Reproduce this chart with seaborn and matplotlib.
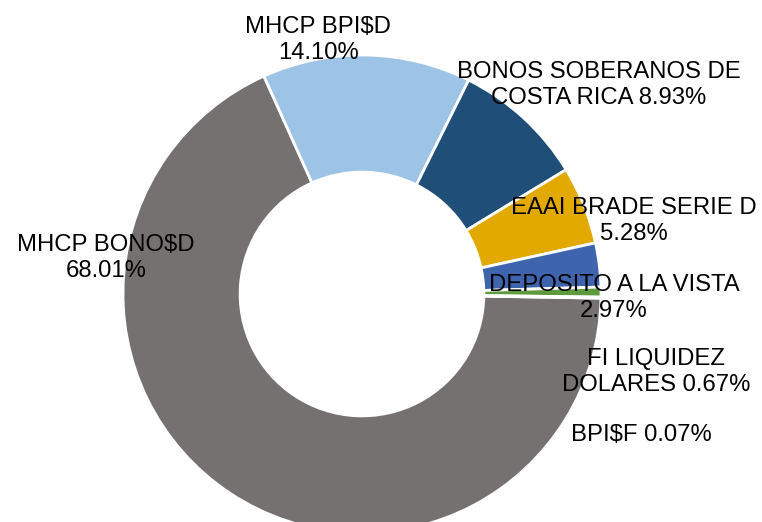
import matplotlib
matplotlib.use("Agg")
import seaborn as sns
from matplotlib import pyplot as plt

# data
names = ["MHCP BONO$D", "MHCP BPI$D", "BONOS SOBERANOS DE\nCOSTA RICA", "EAAI BRADE SERIE D",
         "DEPOSITO A LA VISTA", "FI LIQUIDEZ\nDOLARES", "BPI$F"]
shares = [68.01, 14.10, 8.93, 5.28, 2.97, 0.67, 0.07]
label_text = ["MHCP BONO$D\n68.01%", "MHCP BPI$D\n14.10%", "BONOS SOBERANOS DE\nCOSTA RICA 8.93%",
              "EAAI BRADE SERIE D\n5.28%", "DEPOSITO A LA VISTA\n2.97%", "FI LIQUIDEZ\nDOLARES 0.67%",
              "BPI$F 0.07%"]
colors = ["#767171", "#9DC3E6", "#1F4E79", "#E2AA00", "#3F64AE", "#5E9B3C", "#A5A5A5"]

# label placement (pixel centres in the 762x522 image)
label_pos = [(106, 258), (318, 40), (599, 85), (634, 221), (614, 298), (656, 372), (641, 435)]

W, H = 762, 522

sns.set_style("white")
plt.rcParams["font.family"] = ["Liberation Sans", "DejaVu Sans"]

fig = plt.figure(figsize=(W / 100, H / 100), dpi=100)
cx, cy, r = 362, 294, 239
ax = fig.add_axes([(cx - r) / W, (H - cy - r) / H, 2 * r / W, 2 * r / H])

ax.pie(shares, colors=colors, startangle=-1, counterclock=False, radius=1,
       wedgeprops=dict(width=0.49, edgecolor="white", linewidth=2))
ax.set_xlim(-1, 1)
ax.set_ylim(-1, 1)
ax.set_aspect("equal")
ax.axis("off")

for txt, (px, py) in zip(label_text, label_pos):
    fig.text(px / W, 1 - py / H, txt, ha="center", va="center", fontsize=17.2,
             color="black", linespacing=1.2)

plt.savefig("out.png", dpi=100)
plt.close()
